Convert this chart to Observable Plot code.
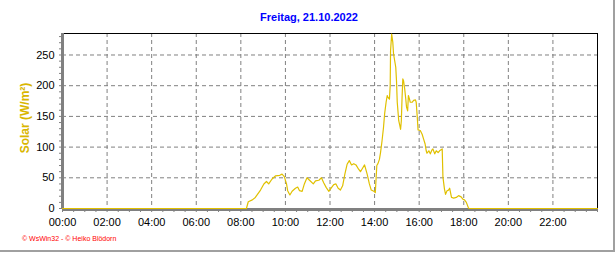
<!DOCTYPE html>
<html>
<head>
<meta charset="utf-8">
<script src="https://cdn.jsdelivr.net/npm/d3@7"></script>
<script src="https://cdn.jsdelivr.net/npm/@observablehq/plot@0.6"></script>
<style>
  html, body { margin: 0; padding: 0; background: #fff; }
  #wrap { position: relative; width: 616px; height: 253px; overflow: hidden; font-family: "Liberation Sans", Arial, sans-serif; }
  #title { position: absolute; left: 1px; top: 11px; width: 616px; text-align: center; font: bold 11px "Liberation Sans", Arial, sans-serif; color: #0000ff; line-height: 12px; }
  #ylabel { position: absolute; left: 25px; top: 118px; transform: translate(-50%, -50%) rotate(-90deg); white-space: nowrap; font: bold 12px "Liberation Sans", Arial, sans-serif; color: #d9b600; line-height: 14px; }
  #footer { position: absolute; left: 22px; top: 235px; font: 7px "Liberation Sans", Arial, sans-serif; color: #ff0000; line-height: 8px; white-space: nowrap; }
  #edgeR { position: absolute; left: 613px; top: 0; width: 2px; height: 252px; background: #a0a0a0; }
  #edgeB { position: absolute; left: 0; top: 250px; width: 615px; height: 2px; background: #a0a0a0; }
  #chart { position: absolute; left: 0; top: 0; }
</style>
</head>
<body>
<div id="wrap">
  <div id="chart"></div>
  <div id="title">Freitag, 21.10.2022</div>
  <div id="ylabel">Solar (W/m²)</div>
  <div id="footer">© WsWin32 - © Heiko Blödorn</div>
  <div id="edgeR"></div>
  <div id="edgeB"></div>
</div>
<script>
const times = ["00:00","08:15","08:20","08:31","08:39","08:53","09:02","09:09","09:15","09:24","09:33","09:45","09:51","09:57",
  "10:03","10:06","10:12","10:18","10:27","10:33","10:38","10:45","10:51","10:58","11:05","11:15","11:21","11:30","11:37","11:43",
  "11:50","11:57","12:04","12:10","12:16","12:22","12:28","12:34","12:40","12:46","12:52","12:58","13:04","13:10","13:17","13:22",
  "13:26","13:33","13:40","13:46","13:51","13:58","14:02","14:06","14:09","14:13","14:16","14:20","14:24","14:27","14:31","14:34",
  "14:36","14:40","14:42","14:43","14:46","14:49","14:51","14:54","14:57","14:59","15:01","15:05","15:08","15:10","15:12","15:14",
  "15:16","15:18","15:21","15:24","15:26","15:29","15:31","15:34","15:36","15:41","15:45","15:50","15:52","15:55","15:57","16:03",
  "16:08","16:12","16:16","16:19","16:21","16:26","16:30","16:34","16:37","16:42","16:46","16:51","16:55","17:02","17:04","17:08",
  "17:11","17:15","17:19","17:22","17:27","17:33","17:40","17:46","17:53","17:58","18:02","18:07","18:12","18:14","24:00"];
const solar = [0,0,11,14,18,30,40,44,40,48,53,54,56,52,
  40,29,22,28,33,35,29,28,40,50,46,40,45,46,50,42,
  34,28,34,39,40,33,30,37,56,72,78,71,73,71,64,60,
  64,71,56,40,30,28,26,70,73,80,91,110,132,154,173,184,
  181,178,200,257,284,271,252,241,230,208,173,143,135,129,143,181,
  211,208,195,178,165,159,184,178,173,173,176,177,173,148,128,127,
  121,113,105,94,90,94,89,95,97,89,94,91,94,97,51,32,
  23,29,30,33,18,17,18,21,19,15,14,10,2,0,0];
const yTicks = [0,50,100,150,200,250];
const xTickLabels = ["00:00","02:00","04:00","06:00","08:00","10:00","12:00","14:00","16:00","18:00","20:00","22:00"];

const toMin = s => { const [h, m] = s.split(":").map(Number); return h * 60 + m; };
const data = times.map((t, i) => ({ t: toMin(t), v: solar[i] }));
const labelMins = xTickLabels.map(toMin);

const lineColor = "#e0c000";
const axisGray = "#808080";

const chart = Plot.plot({
  width: 616,
  height: 253,
  marginTop: 33,
  marginRight: 19,
  marginBottom: 45,
  marginLeft: 62,
  style: { fontFamily: "'Liberation Sans', Arial, sans-serif", fontSize: "11px", background: "transparent", overflow: "visible" },
  x: { domain: [0, 1440] },
  y: { domain: [0, 285] },
  marks: [
    Plot.gridY(yTicks.filter(d => d > 0), { stroke: axisGray, strokeOpacity: 1, strokeDasharray: "4,3" }),
    Plot.gridX(labelMins.filter(d => d > 0), { stroke: axisGray, strokeOpacity: 1, strokeDasharray: "4,3" }),
    Plot.axisX(d3.range(0, 1441, 30), {
      tickSize: 4, tickPadding: 6, stroke: axisGray, fill: "black", label: null,
      tickFormat: m => { const i = labelMins.indexOf(m); return i >= 0 ? xTickLabels[i] : ""; }
    }),
    Plot.axisY(d3.range(0, 281, 10), {
      tickSize: 3, tickPadding: 5, stroke: axisGray, fill: "black", label: null,
      tickFormat: v => yTicks.includes(v) ? String(v) : ""
    }),
    Plot.ruleY([285], { stroke: "black", strokeWidth: 1 }),
    Plot.ruleX([1440], { stroke: "black", strokeWidth: 1 }),
    Plot.ruleX([0], { stroke: axisGray, strokeWidth: 3 }),
    Plot.ruleY([0], { stroke: axisGray, strokeWidth: 3, dy: 1 }),
    Plot.line(data, { x: "t", y: "v", stroke: lineColor, strokeWidth: 1.2 })
  ]
});
document.getElementById("chart").appendChild(chart);
</script>
</body>
</html>
